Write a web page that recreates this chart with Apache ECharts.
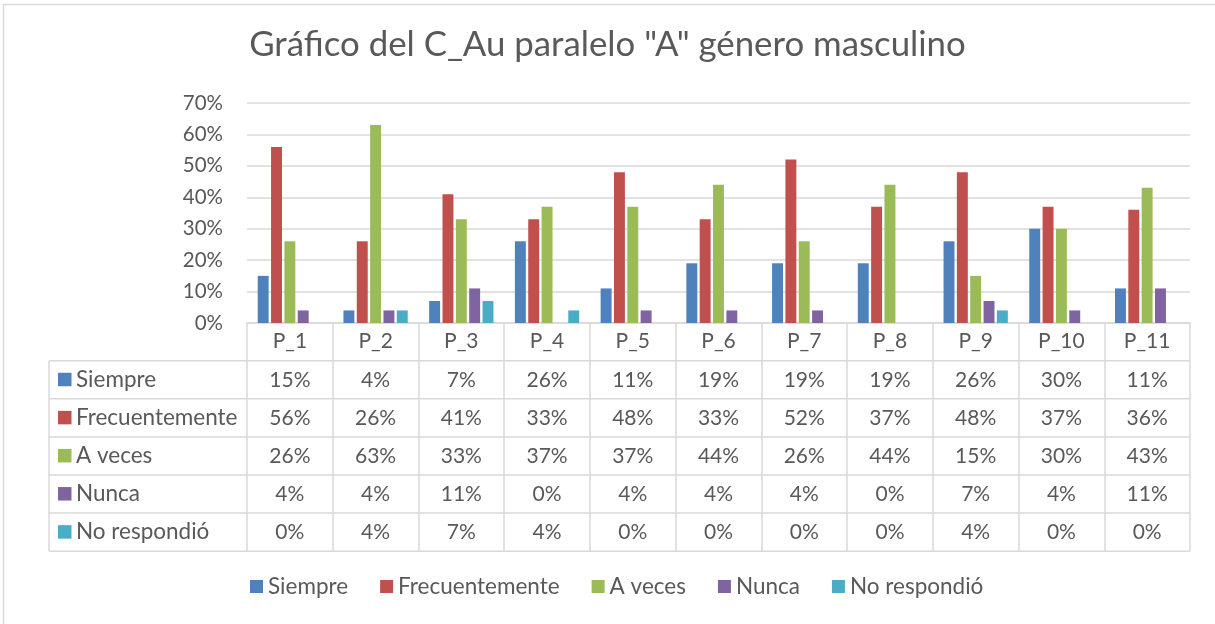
<!DOCTYPE html>
<html>
<head>
<meta charset="utf-8">
<script src="https://cdn.jsdelivr.net/npm/echarts@6/dist/echarts.min.js"></script>
<style>
html,body{margin:0;padding:0;background:#fff;}
#c{width:1215px;height:624px;}
</style>
</head>
<body>
<div id="c"></div>
<script>
const titleText = 'Gráfico del C_Au paralelo "A" género masculino';
const categories = ['P_1','P_2','P_3','P_4','P_5','P_6','P_7','P_8','P_9','P_10','P_11'];
const seriesNames = ['Siempre','Frecuentemente','A veces','Nunca','No respondió'];
const siempre        = [15, 4, 7, 26, 11, 19, 19, 19, 26, 30, 11];
const frecuentemente = [56, 26, 41, 33, 48, 33, 52, 37, 48, 37, 36];
const aVeces         = [26, 63, 33, 37, 37, 44, 26, 44, 15, 30, 43];
const nunca          = [4, 4, 11, 0, 4, 4, 4, 0, 7, 4, 11];
const noRespondio    = [0, 4, 7, 4, 0, 0, 0, 0, 4, 0, 0];
const seriesValues = [siempre, frecuentemente, aVeces, nunca, noRespondio];
const colors = ['#4F81BD','#C0504D','#9BBB59','#8064A2','#4BACC6'];
const yTicks = {min:0, max:70, interval:10};

const FONT = 'Lato';
const TXT = '#595959';
const LINE = '#D9D9D9';

// layout
const W = 1215, H = 624;
const gridLeft = 247, gridRight = 1190, gridTop = 103, gridBottom = 323;
const tableLeft = 49, headerBottom = 360.7, rowH = 38.1;
const tableBottom = headerBottom + rowH * seriesNames.length;

const chart = echarts.init(document.getElementById('c'), null, {renderer:'canvas'});

const option = {
  animation:false,
  backgroundColor:'#fff',
  color: colors,
  textStyle:{fontFamily:FONT},
  title:{
    text:titleText,
    left:'center',
    top:27,
    padding:[0,0,0,13],
    textStyle:{fontFamily:FONT,fontSize:34.8,fontWeight:'normal',color:TXT}
  },
  legend:{
    data:seriesNames,
    left:250,
    top:575,
    padding:0,
    icon:'rect',
    itemWidth:13,
    itemHeight:13,
    itemGap:32,
    textStyle:{fontFamily:FONT,fontSize:22.5,color:TXT,padding:[0,0,0,0]}
  },
  grid:{left:gridLeft, right:W-gridRight, top:gridTop, bottom:H-gridBottom, containLabel:false},
  xAxis:{
    type:'category',
    data:categories,
    axisLine:{show:true,lineStyle:{color:LINE,width:1.5}},
    axisTick:{show:true,length:tableBottom-gridBottom,lineStyle:{color:LINE,width:1.5}},
    axisLabel:{fontFamily:FONT,fontSize:21,color:TXT,margin:8}
  },
  yAxis:{
    type:'value',
    min:yTicks.min,max:yTicks.max,interval:yTicks.interval,
    axisLine:{show:false},
    axisTick:{show:false},
    splitLine:{lineStyle:{color:LINE,width:1.5}},
    axisLabel:{formatter:'{value}%',fontFamily:FONT,fontSize:20.5,color:TXT,margin:24}
  },
  series: seriesNames.map((n,i)=>({
    name:n,
    type:'bar',
    data:seriesValues[i],
    barCategoryGap:'25%',
    barGap:'22%',
    itemStyle:{color:colors[i]}
  }))
};
chart.setOption(option);

// Data table drawn from the arrays, positioned through the category axis
const g = [];
// outer frame
g.push({type:'rect',shape:{x:3.5,y:4.5,width:W+10,height:H+10},style:{fill:'none',stroke:LINE,lineWidth:1.5},silent:true,z:0});
// horizontal lines
for(let k=0;k<=seriesNames.length;k++){
  const y = headerBottom + k*rowH;
  g.push({type:'line',shape:{x1:tableLeft,y1:y,x2:gridRight,y2:y},style:{stroke:LINE,lineWidth:1.5},silent:true});
}
// left vertical line
g.push({type:'line',shape:{x1:tableLeft,y1:headerBottom,x2:tableLeft,y2:tableBottom},style:{stroke:LINE,lineWidth:1.5},silent:true});
seriesNames.forEach((n,i)=>{
  const cy = headerBottom + (i+0.5)*rowH;
  g.push({type:'rect',shape:{x:58,y:cy-7,width:13.5,height:13.5},style:{fill:colors[i]},silent:true});
  g.push({type:'text',style:{text:n,x:76,y:cy,textVerticalAlign:'middle',textAlign:'left',font:'22.5px '+FONT,fill:TXT},silent:true});
  categories.forEach((c,j)=>{
    const cx = chart.convertToPixel({xAxisIndex:0}, c);
    g.push({type:'text',style:{text:seriesValues[i][j]+'%',x:cx,y:cy,textVerticalAlign:'middle',textAlign:'center',font:'21px '+FONT,fill:TXT},silent:true});
  });
});
chart.setOption({graphic:g});
</script>
</body>
</html>
